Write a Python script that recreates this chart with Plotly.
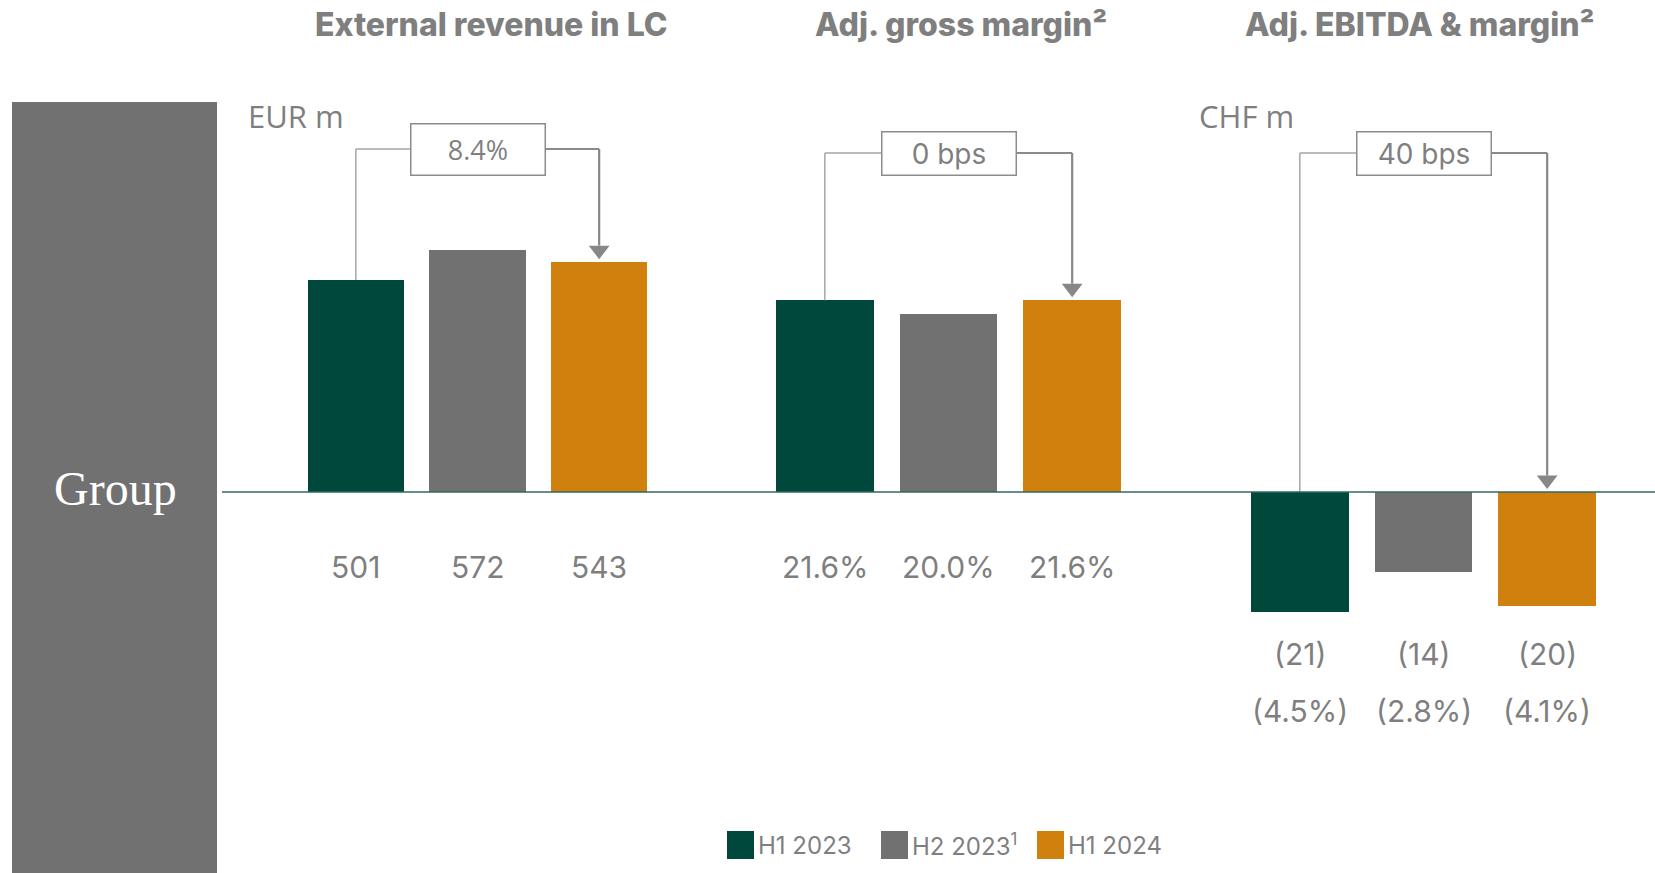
import plotly.graph_objects as go

# ---- data -----------------------------------------------------------------
periods = ["H1 2023", "H2 2023", "H1 2024"]
period_notes = ["", "1", ""]
period_colors = ["#00473C", "#717171", "#D0800C"]

revenue_eur_m = [501, 572, 543]
gross_margin_pct = [21.6, 20.0, 21.6]
ebitda_chf_m = [-21, -14, -20]
ebitda_margin_pct = [-4.5, -2.8, -4.1]

panel_titles = ["External revenue in LC", "Adj. gross margin²", "Adj. EBITDA & margin²"]
panel_units = ["EUR m", "", "CHF m"]
change_labels = ["8.4%", "0 bps", "40 bps"]
segment_name = "Group"

# ---- layout constants (pixels) -----------------------------------------------
W, H = 1655, 873
ZERO_PX = 492  # vertical position of the shared zero line
TEXT_GREY = "#7f7f7f"
NUM_FONT = "Inter"
ARROW_SIZE = 18

panels = [
    dict(values=revenue_eur_m, dom=(295, 660), ppu=0.4233, level=149, box_h=52,
         title_x=491, unit_x=246),
    dict(values=gross_margin_pct, dom=(763, 1134), ppu=8.88, level=153, box_h=44,
         title_x=961, unit_x=None),
    dict(values=ebitda_chf_m, dom=(1238, 1609), ppu=5.72, level=153, box_h=44,
         title_x=1420, unit_x=1197),
]


def py(p):
    """pixel row -> paper fraction"""
    return 1 - p / H


fig = go.Figure()
layout_axes = {}
shapes = []
annotations = []

for i, pnl in enumerate(panels):
    n = "" if i == 0 else str(i + 1)
    xa, ya = "x" + n, "y" + n
    ppu = pnl["ppu"]
    y_lo, y_hi = -(H - ZERO_PX) / ppu, ZERO_PX / ppu

    fig.add_trace(go.Bar(
        x=periods, y=pnl["values"], marker=dict(color=period_colors, line_width=0),
        width=0.79, xaxis=xa, yaxis=ya, showlegend=False,
    ))
    layout_axes["xaxis" + n] = dict(
        domain=[pnl["dom"][0] / W, pnl["dom"][1] / W], range=[-0.5, 2.5],
        visible=False, anchor=ya, type="category",
    )
    layout_axes["yaxis" + n] = dict(
        domain=[0, 1], range=[y_lo, y_hi], visible=False, anchor=xa,
        zeroline=False, showgrid=False,
    )

    # panel title
    annotations.append(dict(
        text=panel_titles[i], xref="paper", yref="paper", x=pnl["title_x"] / W, y=py(24),
        xanchor="center", yanchor="middle", showarrow=False,
        font=dict(family=NUM_FONT, size=32, color=TEXT_GREY, weight=800),
    ))

    # change bracket: from first bar to last bar via a labelled box
    level_val = (ZERO_PX - pnl["level"]) / ppu
    start_val = max(pnl["values"][0], 0)
    end_val = max(pnl["values"][-1], 0)
    px_per_cat = (pnl["dom"][1] - pnl["dom"][0]) / 3
    box_w = 135
    half_box = box_w / 2 / px_per_cat
    gap = 3 / ppu                                          # small gap above the bar
    head_val = end_val + gap + (ARROW_SIZE / 2) / ppu      # centre of the arrow head marker
    head_base = end_val + gap + (ARROW_SIZE * 0.75) / ppu  # flat side of the arrow head

    shapes.append(dict(type="line", xref=xa, yref=ya, x0=0, x1=0, y0=start_val, y1=level_val,
                       line=dict(color="#a6a6a6", width=1.5)))
    shapes.append(dict(type="line", xref=xa, yref=ya, x0=0, x1=1 - half_box,
                       y0=level_val, y1=level_val, line=dict(color="#a6a6a6", width=1.5)))
    shapes.append(dict(type="line", xref=xa, yref=ya, x0=1 + half_box, x1=2,
                       y0=level_val, y1=level_val, line=dict(color="#8a8a8a", width=2)))
    shapes.append(dict(type="line", xref=xa, yref=ya, x0=2, x1=2,
                       y0=level_val, y1=head_base, line=dict(color="#878787", width=2.2)))
    fig.add_trace(go.Scatter(
        x=[periods[-1]], y=[head_val], mode="markers", xaxis=xa, yaxis=ya,
        marker=dict(symbol="triangle-down", size=ARROW_SIZE, color="#878787", line_width=0),
        showlegend=False, hoverinfo="skip", cliponaxis=False,
    ))
    annotations.append(dict(
        text=change_labels[i], xref=xa, yref=ya, x=1, y=level_val,
        xanchor="center", yanchor="middle", showarrow=False,
        width=box_w - 2, height=pnl["box_h"] - 2, borderpad=0, borderwidth=1.5,
        bordercolor="#8c8c8c", bgcolor="white",
        font=dict(family="Open Sans" if i == 0 else NUM_FONT, size=27 if i == 0 else 28,
                  color=TEXT_GREY),
    ))

    # unit label
    if panel_units[i]:
        annotations.append(dict(
            text=panel_units[i], xref="paper", yref="paper",
            x=pnl["unit_x"] / W, y=py(116), xanchor="left", yanchor="middle",
            showarrow=False, font=dict(family="Open Sans", size=31, color=TEXT_GREY),
        ))

# value labels under the zero line
label_font = dict(family=NUM_FONT, size=30, color=TEXT_GREY)
for j, p in enumerate(periods):
    annotations.append(dict(text=f"{revenue_eur_m[j]:,.0f}", xref="x", yref="paper", x=j,
                            y=py(567), showarrow=False, xanchor="center", yanchor="middle",
                            font=label_font))
    annotations.append(dict(text=f"{gross_margin_pct[j]:.1f}%", xref="x2", yref="paper", x=j,
                            y=py(567), showarrow=False, xanchor="center", yanchor="middle",
                            font=label_font))
    v, m = ebitda_chf_m[j], ebitda_margin_pct[j]
    v_txt = f"({abs(v):.0f})" if v < 0 else f"{v:.0f}"
    m_txt = f"({abs(m):.1f}%)" if m < 0 else f"{m:.1f}%"
    annotations.append(dict(text=v_txt, xref="x3", yref="paper", x=j, y=py(654),
                            showarrow=False, xanchor="center", yanchor="middle",
                            font=label_font))
    annotations.append(dict(text=m_txt, xref="x3", yref="paper", x=j, y=py(711),
                            showarrow=False, xanchor="center", yanchor="middle",
                            font=label_font))

# shared zero line
shapes.append(dict(type="line", xref="paper", yref="y", x0=222 / W, x1=1, y0=0, y1=0,
                   line=dict(color="#2f6a60", width=1.5), layer="above"))

# segment panel on the left
shapes.append(dict(type="rect", xref="paper", yref="paper", x0=12 / W, x1=217 / W,
                   y0=0, y1=py(102), fillcolor="#717171", line_width=0, layer="below"))
annotations.append(dict(text=segment_name, xref="paper", yref="paper", x=115 / W, y=py(488),
                        xanchor="center", yanchor="middle", showarrow=False,
                        font=dict(family="Liberation Serif", size=48, color="white")))

# legend
legend_sq = [727, 881, 1037]
for j, p in enumerate(periods):
    shapes.append(dict(type="rect", xref="paper", yref="paper",
                       x0=legend_sq[j] / W, x1=(legend_sq[j] + 27) / W,
                       y0=py(859), y1=py(831), fillcolor=period_colors[j], line_width=0))
    label = p + (f"<sup>{period_notes[j]}</sup>" if period_notes[j] else "")
    annotations.append(dict(text=label, xref="paper", yref="paper",
                            x=(legend_sq[j] + 29) / W, y=py(845), xanchor="left",
                            yanchor="middle", showarrow=False,
                            font=dict(family=NUM_FONT, size=24, color=TEXT_GREY)))

fig.update_layout(
    width=W, height=H, margin=dict(l=0, r=0, t=0, b=0),
    paper_bgcolor="white", plot_bgcolor="rgba(0,0,0,0)",
    shapes=shapes, annotations=annotations, bargap=0, **layout_axes,
)

fig.write_html("out.html")
